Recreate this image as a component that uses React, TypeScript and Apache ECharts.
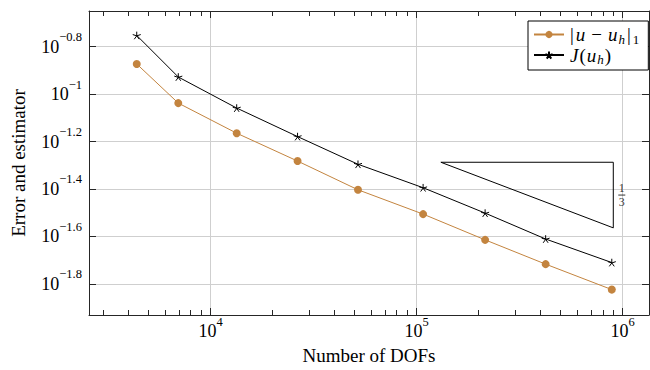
import React, { useEffect, useRef } from 'react';
import * as echarts from 'echarts';

// ---- data ----
const dofs = [4375, 6960, 13370, 26400, 51880, 107400, 214800, 422600, 885000];
const errorH1 = [0.1339, 0.0916, 0.0684, 0.0522, 0.0395, 0.0312, 0.0243, 0.0192, 0.0150];
const estimator = [0.1766, 0.118, 0.0873, 0.0662, 0.0506, 0.0403, 0.0315, 0.0245, 0.0195];

// tick exponents
const xMajorExp = [4, 5, 6];
const yMajorExp = [-1.8, -1.6, -1.4, -1.2, -1, -0.8];
const xMinorDecades = [3, 4, 5];
const xMinorMantissas = [1, 2, 3, 4, 5, 6, 7, 8, 9];

// slope triangle
const triangleX = [131000, 900000];
const triangleY = [0.0516, 0.0273];
const slopeNum = '1';
const slopeDen = '3';

const seriesNames = ['|u − uh|1', 'J(uh)'];

const FONT = 'Liberation Serif';
const ORANGE = '#c3843f';
const FRAME = '#262626';
const GRID = '#cfcfcf';

const xMin = 3.4092;
const xMax = 6.1276;
const yMin = -1.931;
const yMax = -0.65;

const lg = (v: number) => Math.log10(v);

export default function App() {
  const ref = useRef<HTMLDivElement>(null);
  useEffect(() => {
    document.body.style.margin = '0';
    const chart = echarts.init(ref.current!, undefined, { renderer: 'svg' });

    const xMinorTicks: number[] = [];
    xMinorDecades.forEach((d) =>
      xMinorMantissas.forEach((m) => {
        const v = lg(m) + d;
        if (v >= xMin && v <= xMax) xMinorTicks.push(v);
      })
    );

    const supRich = {
      b: { fontFamily: FONT, fontSize: 18, lineHeight: 32, color: '#000' },
      s: { fontFamily: FONT, fontSize: 12.5, verticalAlign: 'top', color: '#000' },
    };

    const frameLine = { color: FRAME, width: 1 };

    const triData = [
      [lg(triangleX[0]), lg(triangleY[0])],
      [lg(triangleX[1]), lg(triangleY[0])],
      [lg(triangleX[1]), lg(triangleY[1])],
      [lg(triangleX[0]), lg(triangleY[0])],
    ];
    const labelY = (lg(triangleY[0]) + lg(triangleY[1])) / 2;

    const legendRich = {
      r: { fontFamily: FONT, fontSize: 19, lineHeight: 22, color: '#000' },
      bar: { fontFamily: FONT, fontSize: 19, lineHeight: 22, color: '#000', padding: [0, 1, 0, 1] },
      m: { fontFamily: FONT, fontSize: 19, lineHeight: 22, color: '#000', padding: [0, 5, 0, 5] },
      i: { fontFamily: FONT, fontStyle: 'italic', fontSize: 19, lineHeight: 22, color: '#000', padding: [0, 1, 0, 1] },
      si: { fontFamily: FONT, fontStyle: 'italic', fontSize: 13, verticalAlign: 'bottom', color: '#000', padding: [0, 1, 0, 0] },
      sr: { fontFamily: FONT, fontSize: 13, verticalAlign: 'bottom', color: '#000', padding: [0, 0, 0, 1] },
    };

    chart.setOption({
      animation: false,
      backgroundColor: '#fff',
      textStyle: { fontFamily: FONT, color: '#000' },
      grid: { left: 89, right: 1, top: 11, bottom: 49 },
      legend: {
        data: seriesNames,
        orient: 'vertical',
        left: 528,
        top: 21,
        itemWidth: 30,
        itemHeight: 9,
        itemGap: 0,
        padding: [4, 9, 4, 5],
        borderColor: '#000',
        borderWidth: 1,
        backgroundColor: '#fff',
        selectedMode: false,
        textStyle: { fontFamily: FONT, fontSize: 19, color: '#000', rich: legendRich },
        formatter: (name: string) =>
          name === seriesNames[0]
            ? '{bar||}{i|u}{m|−}{i|u}{si|h}{bar||}{sr|1}'
            : '{i|J}{r|(}{i|u}{si|h}{r|)}',
      },
      xAxis: [
        {
          type: 'value',
          position: 'bottom',
          min: xMin,
          max: xMax,
          axisLine: { show: true, onZero: false, lineStyle: frameLine },
          axisTick: { show: true, inside: true, length: 5, customValues: xMinorTicks, lineStyle: frameLine },
          axisLabel: {
            show: true,
            customValues: xMajorExp,
            margin: 0,
            fontFamily: FONT,
            color: '#000',
            formatter: (v: number) => `{b|10}{s|${Math.round(v)}}`,
            rich: supRich,
          },
          splitLine: { show: false },
          name: 'Number of DOFs',
          nameLocation: 'middle',
          nameGap: 31,
          nameTextStyle: { fontFamily: FONT, fontSize: 19, color: '#000' },
        },
        {
          type: 'value',
          position: 'bottom',
          min: xMin,
          max: xMax,
          axisLine: { show: false, onZero: false },
          axisTick: { show: true, inside: true, length: 7, customValues: xMajorExp, lineStyle: frameLine },
          axisLabel: { show: false },
          splitLine: { show: true, lineStyle: { color: GRID, width: 1 } },
        },
        {
          type: 'value',
          position: 'top',
          min: xMin,
          max: xMax,
          axisLine: { show: true, onZero: false, lineStyle: frameLine },
          axisTick: { show: true, inside: true, length: 5, customValues: xMinorTicks, lineStyle: frameLine },
          axisLabel: { show: false },
          splitLine: { show: false },
        },
        {
          type: 'value',
          position: 'top',
          min: xMin,
          max: xMax,
          axisLine: { show: false, onZero: false },
          axisTick: { show: true, inside: true, length: 7, customValues: xMajorExp, lineStyle: frameLine },
          axisLabel: { show: false },
          splitLine: { show: false },
        },
      ],
      yAxis: [
        {
          type: 'value',
          position: 'left',
          min: yMin,
          max: yMax,
          axisLine: { show: true, onZero: false, lineStyle: frameLine },
          axisTick: { show: true, inside: true, length: 7, customValues: yMajorExp, lineStyle: frameLine },
          axisLabel: {
            show: true,
            customValues: yMajorExp,
            margin: 7,
            fontFamily: FONT,
            color: '#000',
            formatter: (v: number) => {
              const r = Math.round(v * 10) / 10;
              return `{b|10}{s|−${String(Math.abs(r))}}`;
            },
            rich: supRich,
          },
          splitLine: { show: true, lineStyle: { color: GRID, width: 1 } },
          name: 'Error and estimator',
          nameLocation: 'middle',
          nameGap: 61,
          nameTextStyle: { fontFamily: FONT, fontSize: 19, color: '#000' },
        },
        {
          type: 'value',
          position: 'right',
          min: yMin,
          max: yMax,
          axisLine: { show: true, onZero: false, lineStyle: frameLine },
          axisTick: { show: true, inside: true, length: 7, customValues: yMajorExp, lineStyle: frameLine },
          axisLabel: { show: false },
          splitLine: { show: false },
        },
      ],
      series: [
        {
          name: 'triangle',
          type: 'line',
          xAxisIndex: 0,
          yAxisIndex: 0,
          data: triData,
          symbol: 'none',
          silent: true,
          lineStyle: { color: '#000', width: 1 },
          z: 3,
        },
        {
          name: 'slope',
          type: 'scatter',
          xAxisIndex: 0,
          yAxisIndex: 0,
          data: [[lg(triangleX[1]), labelY]],
          symbolSize: 0,
          silent: true,
          itemStyle: { color: '#000' },
          label: {
            show: true,
            position: 'right',
            distance: 5,
            color: '#000',
            fontFamily: FONT,
            formatter: `{n|${slopeNum}}\n{l|}\n{n|${slopeDen}}`,
            rich: {
              n: { fontFamily: FONT, fontSize: 12, lineHeight: 11, align: 'center', color: '#000' },
              l: { width: 7, height: 1, lineHeight: 3, backgroundColor: '#000', align: 'center' },
            },
          },
        },
        {
          name: seriesNames[0],
          type: 'line',
          xAxisIndex: 0,
          yAxisIndex: 0,
          data: dofs.map((d, i) => [lg(d), lg(errorH1[i])]),
          symbol: 'circle',
          symbolSize: 8,
          color: ORANGE,
          itemStyle: { color: ORANGE },
          lineStyle: { color: ORANGE, width: 1 },
          emphasis: { disabled: true },
          z: 4,
        },
        {
          name: seriesNames[1],
          type: 'line',
          xAxisIndex: 0,
          yAxisIndex: 0,
          data: dofs.map((d, i) => [lg(d), lg(estimator[i])]),
          symbol:
            'path://M0,0L0,-10M0,0L9.511,-3.09M0,0L5.878,8.09M0,0L-5.878,8.09M0,0L-9.511,-3.09',
          symbolSize: 8,
          symbolKeepAspect: true,
          color: '#000',
          itemStyle: { color: '#000', borderColor: '#000', borderWidth: 1 },
          lineStyle: { color: '#000', width: 1 },
          emphasis: { disabled: true },
          z: 4,
        },
      ],
    });
    return () => chart.dispose();
  }, []);
  return <div ref={ref} style={{ width: 650, height: 370 }} />;
}
